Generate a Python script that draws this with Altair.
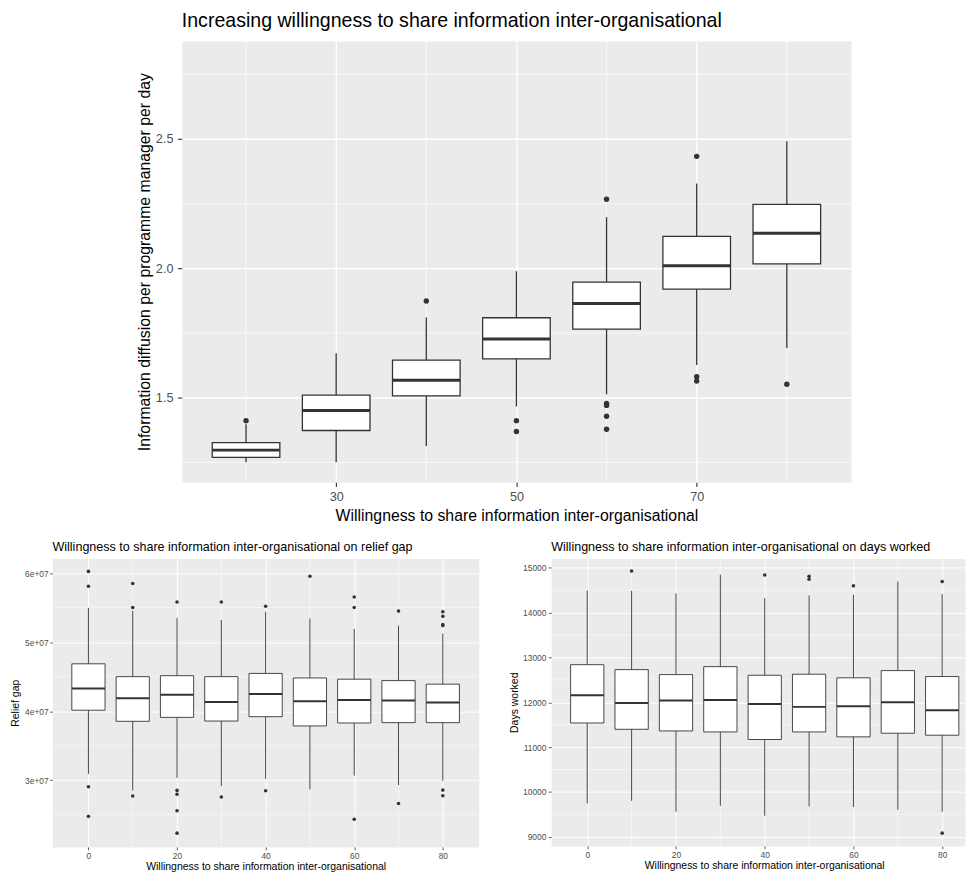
import altair as alt
import pandas as pd

FONT = "Liberation Sans"
GRID_BG = "#EBEBEB"
LINE = "#333333"

# ---------------- top panel data ----------------
top_x = [20, 30, 40, 50, 60, 70, 80]
top_lo = [1.250, 1.250, 1.313, 1.466, 1.513, 1.626, 1.692]
top_q1 = [1.269, 1.373, 1.507, 1.650, 1.765, 1.920, 2.017]
top_med = [1.297, 1.450, 1.567, 1.727, 1.864, 2.010, 2.136]
top_q3 = [1.326, 1.510, 1.645, 1.809, 1.947, 2.124, 2.247]
top_hi = [1.397, 1.672, 1.810, 1.989, 2.198, 2.328, 2.491]
top_out_x = [20, 40, 50, 50, 60, 60, 60, 60, 60, 70, 70, 70, 80]
top_out_y = [1.411, 1.874, 1.411, 1.369, 2.267, 1.478, 1.470, 1.428, 1.378,
             2.433, 1.581, 1.564, 1.552]
top_xticks = [30, 50, 70]
top_xminor = [20, 40, 60, 80]
top_yticks = [1.5, 2.0, 2.5]
top_yminor = [1.25, 1.75, 2.25, 2.75]

# ---------------- relief gap data ----------------
rg_x = [0, 10, 20, 30, 40, 50, 60, 70, 80]
rg_lo = [3.091e7, 2.850e7, 3.034e7, 2.914e7, 3.020e7, 2.866e7, 3.067e7, 2.929e7, 2.990e7]
rg_q1 = [4.014e7, 3.853e7, 3.910e7, 3.857e7, 3.920e7, 3.786e7, 3.829e7, 3.834e7, 3.834e7]
rg_med = [4.329e7, 4.186e7, 4.239e7, 4.134e7, 4.249e7, 4.143e7, 4.163e7, 4.153e7, 4.124e7]
rg_q3 = [4.686e7, 4.500e7, 4.514e7, 4.500e7, 4.547e7, 4.481e7, 4.463e7, 4.443e7, 4.391e7]
rg_hi = [5.496e7, 5.453e7, 5.353e7, 5.320e7, 5.439e7, 5.343e7, 5.191e7, 5.239e7, 5.124e7]
rg_out_x = [0, 0, 0, 0, 10, 10, 10, 20, 20, 20, 20, 20, 30, 30, 40, 40, 50,
            60, 60, 60, 70, 70, 80, 80, 80, 80, 80, 80]
rg_out_y = [6.024e7, 5.810e7, 2.906e7, 2.477e7,
            5.848e7, 5.500e7, 2.771e7,
            5.581e7, 2.853e7, 2.796e7, 2.557e7, 2.234e7,
            5.581e7, 2.757e7,
            5.520e7, 2.849e7,
            5.953e7,
            5.653e7, 5.500e7, 2.434e7,
            5.449e7, 2.663e7,
            5.439e7, 5.373e7, 5.253e7, 5.239e7, 2.857e7, 2.776e7]
rg_yticks = [3e7, 4e7, 5e7, 6e7]
rg_yminor = [2.5e7, 3.5e7, 4.5e7, 5.5e7]

# ---------------- days worked data ----------------
dw_x = [0, 10, 20, 30, 40, 50, 60, 70, 80]
dw_lo = [9743, 9801, 9558, 9690, 9470, 9676, 9661, 9602, 9558]
dw_q1 = [11537, 11397, 11360, 11338, 11169, 11338, 11228, 11309, 11265]
dw_med = [12154, 11985, 12037, 12051, 11963, 11897, 11912, 12000, 11823]
dw_q3 = [12838, 12728, 12617, 12794, 12602, 12625, 12545, 12706, 12573]
dw_hi = [14493, 14486, 14426, 14846, 14323, 14382, 14397, 14691, 14411]
dw_out_x = [10, 40, 50, 50, 60, 80, 80]
dw_out_y = [14927, 14838, 14808, 14742, 14596, 14691, 9081]
dw_yticks = [9000, 10000, 11000, 12000, 13000, 14000, 15000]
dw_yminor = [9500, 10500, 11500, 12500, 13500, 14500]

bot_xticks = [0, 20, 40, 60, 80]
bot_xminor = [10, 30, 50, 70]


def panel(xs, lo, q1, med, q3, hi, ox, oy, *, xdom, ydom, xticks, xminor,
          yticks, yminor, width, height, title, xtitle, ytitle, s):
    box_df = pd.DataFrame({"x": xs, "lo": lo, "q1": q1, "med": med, "q3": q3, "hi": hi})
    out_df = pd.DataFrame({"x": ox, "y": oy})
    xmin_df = pd.DataFrame({"v": xminor})
    ymin_df = pd.DataFrame({"v": yminor})

    xscale = alt.Scale(domain=xdom, nice=False, zero=False)
    yscale = alt.Scale(domain=ydom, nice=False, zero=False)
    xaxis_kw = dict(
        values=xticks, title=xtitle, grid=True, gridColor="white",
        gridWidth=s["gw"], domain=False, tickColor=LINE, tickSize=s["ts"],
        tickWidth=s["tw"], labelColor="#4D4D4D", labelFontSize=s["lfs"],
        labelPadding=s["xlp"], labelFlush=False, labelOverlap=False,
        titleFontSize=s["tfs"], titleFontWeight="normal", titleColor="black",
        titleY=s["xty"], titleBaseline="alphabetic", titleX=s["xtx"],
        labelFont=FONT, titleFont=FONT,
    )
    yaxis_kw = dict(
        values=yticks, title=ytitle, grid=True, gridColor="white",
        gridWidth=s["gw"], domain=False, tickColor=LINE, tickSize=s["ts"],
        tickWidth=s["tw"], labelColor="#4D4D4D", labelFontSize=s["lfs"],
        labelPadding=s["ylp"], labelFlush=False, labelOverlap=False,
        titleFontSize=s["tfs"], titleFontWeight="normal", titleColor="black",
        titleX=s["ytx"], titleY=height / 2, titleBaseline="middle",
        labelFont=FONT, titleFont=FONT,
    )
    if "labelExpr" in s:
        yaxis_kw["labelExpr"] = s["labelExpr"]
    else:
        yaxis_kw["format"] = s["fmt"]
    xaxis = alt.Axis(**xaxis_kw)
    yaxis = alt.Axis(**yaxis_kw)

    def X(f):
        return alt.X(f"{f}:Q", scale=xscale, axis=xaxis)

    def Y(f):
        return alt.Y(f"{f}:Q", scale=yscale, axis=yaxis)

    minor_h = alt.Chart(ymin_df).mark_rule(color="white", strokeWidth=s["mw"]).encode(y=Y("v"))
    minor_v = alt.Chart(xmin_df).mark_rule(color="white", strokeWidth=s["mw"]).encode(x=X("v"))
    whisk = alt.Chart(box_df).mark_rule(color=LINE, strokeWidth=s["lw"]).encode(
        x=X("x"), y=Y("lo"), y2=alt.Y2("hi:Q"))
    half = s["half"]
    boxes = alt.Chart(box_df).transform_calculate(
        xl=f"datum.x - {half}", xr=f"datum.x + {half}"
    ).mark_rect(fill="white", stroke=LINE, strokeWidth=s["lw"]).encode(
        x=X("xl"), x2=alt.X2("xr:Q"), y=Y("q1"), y2=alt.Y2("q3:Q"))
    meds = alt.Chart(box_df).transform_calculate(
        xl=f"datum.x - {half}", xr=f"datum.x + {half}"
    ).mark_rule(color=LINE, strokeWidth=s["medw"]).encode(
        x=X("xl"), x2=alt.X2("xr:Q"), y=Y("med"))
    outs = alt.Chart(out_df).mark_circle(color=LINE, size=s["ps"], opacity=1).encode(
        x=X("x"), y=Y("y"))

    return alt.layer(minor_h, minor_v, whisk, boxes, meds, outs).properties(
        width=width, height=height,
        title=alt.TitleParams(text=title, anchor="start", frame="group",
                              fontSize=s["ttl"], fontWeight="normal", color="black",
                              offset=s["toff"], baseline="alphabetic", font=FONT),
        view=alt.ViewBackground(fill=GRID_BG, stroke="transparent"),
    )


TOP_W, TOP_H = 677.6, 446.7
top_style = dict(gw=1.4, mw=0.7, ts=4.4, tw=1.1, lfs=12.8, xlp=4.5, ylp=4.6,
                 tfs=16, xty=38.5, xtx=TOP_W / 2, ytx=-37.7, fmt=".1f",
                 lw=1.3, medw=3.0, ps=30, half=3.75, ttl=19.8, toff=-6)
top = panel(top_x, top_lo, top_q1, top_med, top_q3, top_hi, top_out_x, top_out_y,
            xdom=[12.875, 87.125], ydom=[1.173, 2.879], xticks=top_xticks,
            xminor=top_xminor, yticks=top_yticks, yminor=top_yminor,
            width=TOP_W, height=TOP_H,
            title="Increasing willingness to share information inter-organisational",
            xtitle="Willingness to share information inter-organisational",
            ytitle="Information diffusion per programme manager per day",
            s=top_style)

BL_W, BL_H = 431.7, 292
bl_style = dict(gw=1.0, mw=0.5, ts=2.9, tw=0.8, lfs=8.5, xlp=2.0, ylp=1.5,
                tfs=10.6, xty=22.6, xtx=BL_W / 2, ytx=-37.6,
                labelExpr="replace(format(datum.value, '.0e'), '+', '+0')",
                lw=0.9, medw=2.0, ps=13, half=3.75, ttl=12.7, toff=-5.7)
bl = panel(rg_x, rg_lo, rg_q1, rg_med, rg_q3, rg_hi, rg_out_x, rg_out_y,
           xdom=[-8.125, 88.125], ydom=[2.034e7, 6.21e7], xticks=bot_xticks,
           xminor=bot_xminor, yticks=rg_yticks, yminor=rg_yminor,
           width=BL_W, height=BL_H,
           title="Willingness to share information inter-organisational on relief gap",
           xtitle="Willingness to share information inter-organisational",
           ytitle="Relief gap", s=bl_style)

BR_W, BR_H = 419, 291
br_style = dict(gw=1.0, mw=0.5, ts=2.9, tw=0.8, lfs=8.5, xlp=2.0, ylp=2.5,
                tfs=10.6, xty=22.6, xtx=215.7, ytx=-37.3, fmt="d",
                lw=0.9, medw=2.0, ps=13, half=3.75, ttl=12.7, toff=-5.7)
br = panel(dw_x, dw_lo, dw_q1, dw_med, dw_q3, dw_hi, dw_out_x, dw_out_y,
           xdom=[-8.125, -8.125 + BR_W / 4.4925], ydom=[8795, 15205],
           xticks=bot_xticks, xminor=bot_xminor, yticks=dw_yticks, yminor=dw_yminor,
           width=BR_W, height=BR_H,
           title="Willingness to share information inter-organisational on days worked",
           xtitle="Willingness to share information inter-organisational",
           ytitle="Days worked", s=br_style)

spacer = alt.Chart(pd.DataFrame({"s": [0]})).mark_point(opacity=0, size=1).encode(
    x=alt.value(0), y=alt.value(0)
).properties(width=83, height=10,
             view=alt.ViewBackground(fill="transparent", stroke="transparent"))

row0 = alt.hconcat(spacer, top, spacing=0)
row1 = alt.hconcat(bl, br, spacing=29)
chart = alt.vconcat(row0, row1, spacing=17).properties(
    padding={"left": 1, "top": -3, "right": 0, "bottom": 0}
).configure(font=FONT).configure_view(stroke="transparent")

chart.save("out.html", embed_options={"renderer": "svg", "actions": False})
